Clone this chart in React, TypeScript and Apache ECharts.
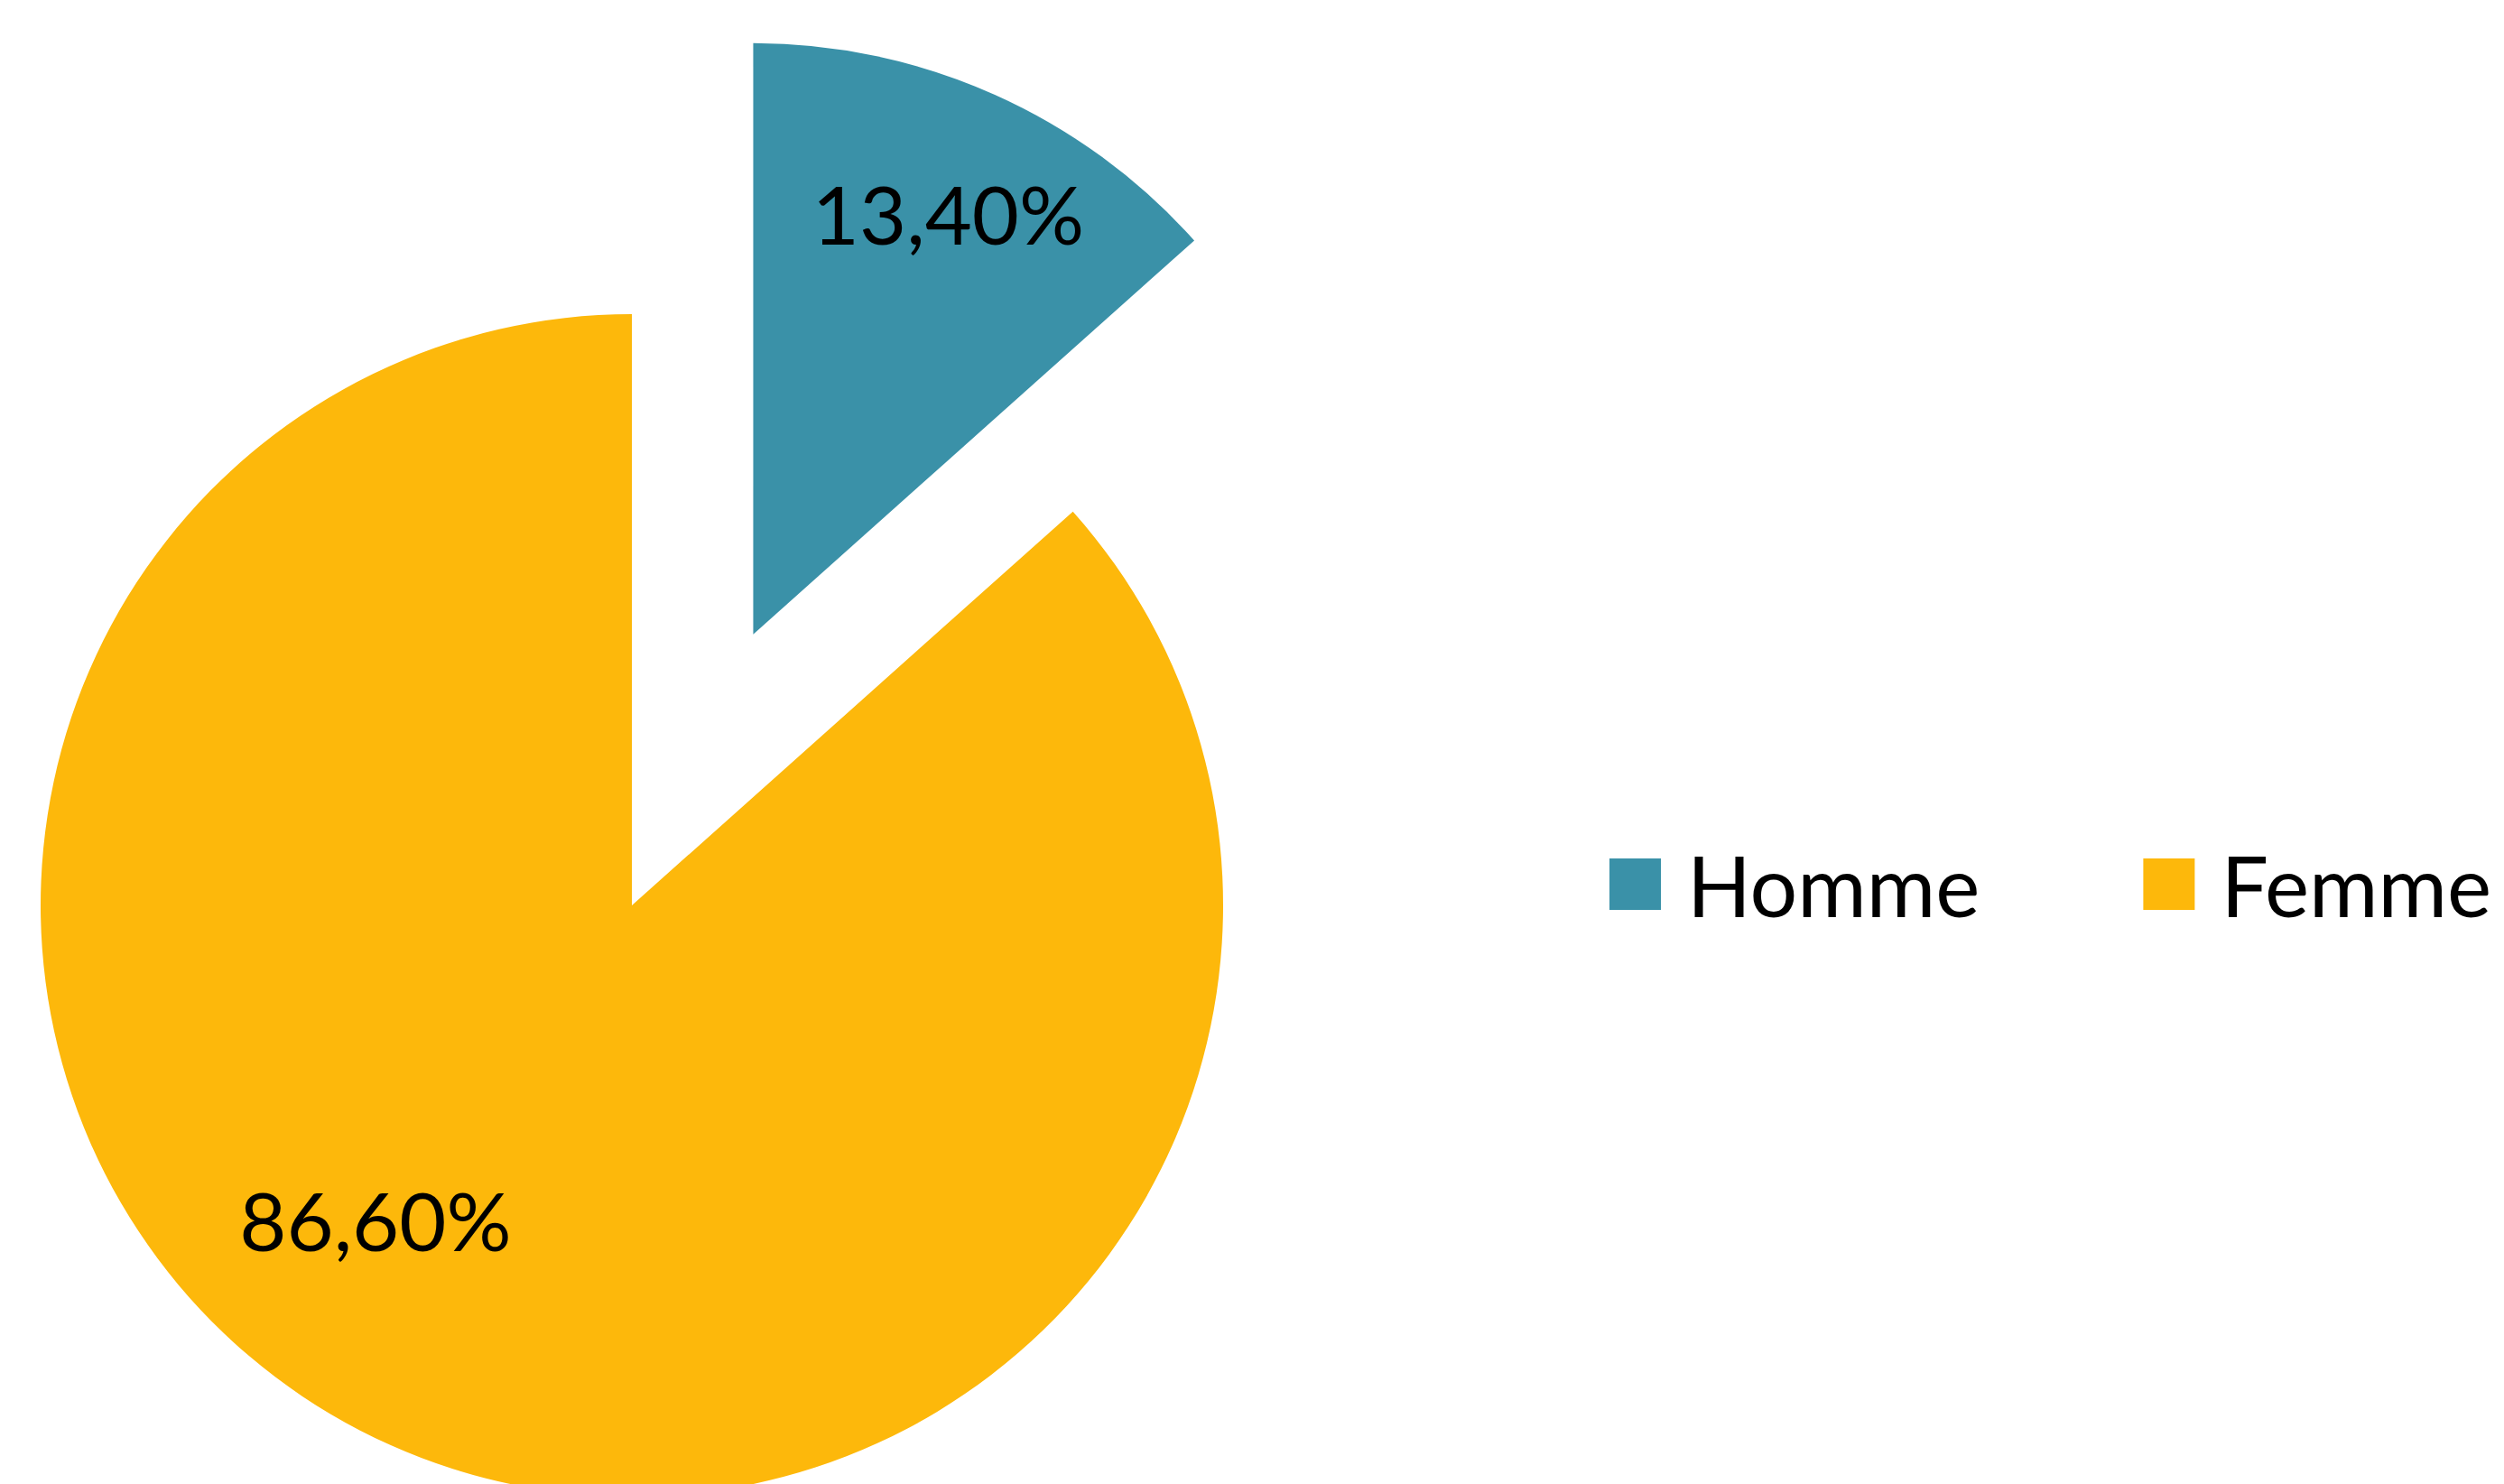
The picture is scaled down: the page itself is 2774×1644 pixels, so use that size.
import React, { useEffect, useRef } from "react";
import * as echarts from "echarts";

const categories = ["Homme", "Femme"];
const values = [13.4, 86.6];
const colors = ["#3A91A8", "#FDB80B"];

export default function App() {
  const ref = useRef<HTMLDivElement>(null);
  useEffect(() => {
    if (!ref.current) return;
    const chart = echarts.init(ref.current, null, { renderer: "svg" });
    const labelShift = [
      { dx: 81, dy: -165 },
      { dx: -149, dy: 46 },
    ];
    chart.setOption({
      animation: false,
      backgroundColor: "#ffffff",
      legend: {
        data: categories,
        orient: "horizontal",
        left: 1778,
        top: 928,
        width: 1400,
        icon: "rect",
        itemWidth: 57,
        itemHeight: 57,
        itemGap: 181,
        textStyle: {
          fontFamily: "Lato",
          fontSize: 93,
          color: "#000000",
          padding: [0, 0, 0, 24],
        },
      },
      series: [
        {
          type: "pie",
          center: [700, 1003],
          radius: 655,
          startAngle: 90,
          clockwise: true,
          selectedMode: "multiple",
          selectedOffset: 329,
          avoidLabelOverlap: false,
          label: {
            show: true,
            position: "inside",
            fontFamily: "Lato",
            fontSize: 90,
            color: "#000000",
            formatter: (p: any) => p.value.toFixed(2).replace(".", ",") + "%",
          },
          labelLine: { show: false },
          labelLayout: (p: any) => labelShift[p.dataIndex],
          emphasis: { disabled: true },
          data: categories.map((name, i) => ({
            name,
            value: values[i],
            selected: i === 0,
            itemStyle: { color: colors[i] },
          })),
        },
      ],
    });
    return () => chart.dispose();
  }, []);
  return (
    <div
      ref={ref}
      style={{ position: "fixed", left: 0, top: 0, width: "2774px", height: "1644px" }}
    />
  );
}
